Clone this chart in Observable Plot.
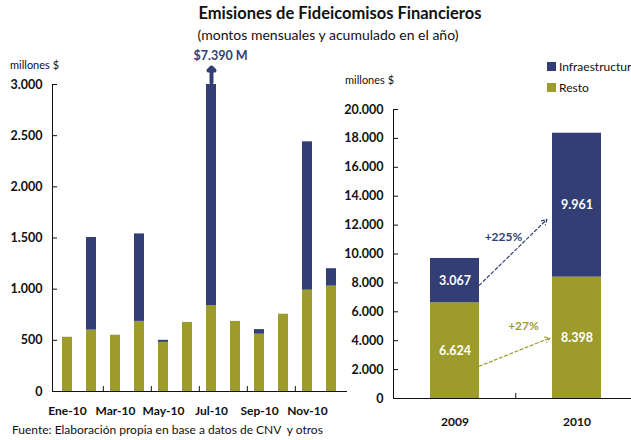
<!DOCTYPE html>
<html><head><meta charset="utf-8">
<script src="https://cdn.jsdelivr.net/npm/d3@7"></script>
<script src="https://cdn.jsdelivr.net/npm/@observablehq/plot@0.6"></script>
<style>
html,body{margin:0;padding:0;background:#fff;overflow:hidden}
#root{position:relative;width:631px;height:440px;overflow:hidden;font-family:Lato,"Open Sans",sans-serif;color:#111}
.abs{position:absolute;white-space:nowrap;line-height:1}
#left,#right{position:absolute}
#left{left:0;top:40px;width:346px}
#right{left:330px;top:95px;width:310px}
#left svg,#right svg{max-width:none!important}
.sw{position:absolute;width:9px;height:9px}
</style></head><body><div id="root">
<div class="abs" style="left:0;width:680px;top:5px;text-align:center;font-weight:bold;font-size:16.5px">Emisiones de Fideicomisos Financieros</div>
<div class="abs" style="left:0;width:656px;top:28px;text-align:center;font-size:14px">(montos mensuales y acumulado en el año)</div>
<div class="abs" style="left:10px;top:59px;font-size:11px">millones $</div>
<div class="abs" style="left:345px;top:74px;font-size:11px">millones $</div>
<div id="legend"></div>
<div id="left"></div>
<div id="right"></div>
<div class="abs" style="left:12px;top:424px;font-size:12px">Fuente: Elaboración propia en base a datos de CNV&nbsp; y otros</div>
</div>
<script>
// ---- data ----
const months = ["Ene-10","Feb-10","Mar-10","Abr-10","May-10","Jun-10","Jul-10","Ago-10","Sep-10","Oct-10","Nov-10","Dic-10"];
const monthTicks = ["Ene-10","Mar-10","May-10","Jul-10","Sep-10","Nov-10"];
const restoMonthly = [530, 600, 550, 685, 480, 675, 840, 685, 560, 755, 990, 1030];
const infraMonthly = [0, 905, 0, 855, 20, 0, 6550, 0, 45, 0, 1450, 170];
const leftTicks = [0, 500, 1000, 1500, 2000, 2500, 3000];
const julNote = "$7.390 M";
const julMonth = "Jul-10";

const years = ["2009", "2010"];
const restoYearly = [6624, 8398];
const infraYearly = [3067, 9961];
const rightTicks = [0, 2000, 4000, 6000, 8000, 10000, 12000, 14000, 16000, 18000, 20000];
const growthLabels = ["+225%", "+27%"];
const growthFrom = [6200, 1560];   // arrow line at 2009 band centre
const growthTo = [14420, 4940];    // arrow line at 2010 band centre
const growthLabelY = [11200, 5000];

const series = ["Infraestructura", "Resto"];
const colors = ["#333f74", "#9c9b2c"];

// ---- helpers ----
const fmt = d3.formatLocale({decimal: ",", thousands: ".", grouping: [3], currency: ["$", ""]}).format(",");
const font = "Lato, 'Open Sans', sans-serif";

// legend
const legend = document.getElementById("legend");
series.forEach((s, i) => {
  const top = 62 + i * 21;
  legend.insertAdjacentHTML("beforeend",
    `<div class="sw" style="left:547px;top:${top}px;background:${colors[i]}"></div>` +
    `<div class="abs" style="left:559px;top:${top - 1}px;font-size:12px">${s}</div>`);
});

// ---- left chart ----
const monthly = [];
months.forEach((m, i) => {
  monthly.push({m, s: "Resto", v: restoMonthly[i]});
  monthly.push({m, s: "Infraestructura", v: infraMonthly[i]});
});
const leftMax = leftTicks[leftTicks.length - 1];
const left = Plot.plot({
  width: 346, height: 385, marginLeft: 52, marginRight: 0, marginTop: 44, marginBottom: 34,
  style: {fontFamily: font, background: "transparent", overflow: "visible", color: "#111"},
  x: {domain: months, paddingInner: 0.59, paddingOuter: 0.33, label: null, axis: null},
  y: {domain: [0, leftMax], label: null, axis: null},
  color: {domain: series, range: colors},
  marks: [
    Plot.barY(monthly, {x: "m", y: "v", fill: "s", clip: true}),
    Plot.axisY({ticks: leftTicks, tickSize: -5, tickPadding: 15, tickFormat: fmt, fontWeight: "bold", fontSize: 12.5, label: null}),
    Plot.axisX({ticks: monthTicks, tickSize: 0, tickPadding: 15, fontWeight: "bold", fontSize: 12, label: null}),
    Plot.axisX({ticks: months.filter((d, i) => i % 2 === 0 && i > 0), tickSize: -5, tickFormat: () => "", dx: -12.2, label: null}),
    Plot.frame({anchor: "left"}),
    Plot.frame({anchor: "bottom"}),
    Plot.vector([{m: julMonth, y: leftMax}], {x: "m", y: "y", length: 15, rotate: 0, anchor: "start", shape: "arrow", stroke: colors[0], strokeWidth: 4, dy: -2}),
    Plot.text([{m: julMonth, y: leftMax, t: julNote}], {x: "m", y: "y", text: "t", dy: -29, dx: 9, fill: colors[0], fontWeight: "bold", fontSize: 12.5})
  ]
});
document.getElementById("left").append(left);

// ---- right chart ----
const yearly = [];
years.forEach((y, i) => {
  yearly.push({y, s: "Resto", v: restoYearly[i]});
  yearly.push({y, s: "Infraestructura", v: infraYearly[i]});
});
const growth = growthLabels.map((label, i) => ({label, from: growthFrom[i], to: growthTo[i], ly: growthLabelY[i], color: colors[i]}));
const insets = [[34, 42], [26, 29]];
const labelDx = [48.5, 68.5];
const right = Plot.plot({
  width: 310, height: 345, marginLeft: 63, marginRight: 2, marginTop: 14, marginBottom: 42,
  style: {fontFamily: font, background: "transparent", overflow: "visible", color: "#111"},
  x: {domain: years, paddingInner: 0.6, paddingOuter: 0.3, label: null, axis: null},
  y: {domain: [0, rightTicks[rightTicks.length - 1]], label: null, axis: null},
  color: {domain: series, range: colors},
  marks: [
    Plot.barY(yearly, {x: "y", y: "v", fill: "s"}),
    Plot.text(yearly, Plot.stackY({x: "y", y: "v", z: "s", text: d => fmt(d.v), fill: "white", fontWeight: "bold", fontSize: 12.5})),
    ...growth.map((g, i) => Plot.arrow([g], {x1: () => years[0], x2: () => years[1], y1: "from", y2: "to", stroke: g.color, strokeWidth: 1.2, strokeDasharray: "3,2.5", headLength: 7, insetStart: insets[i][0], insetEnd: insets[i][1]})),
    ...growth.map((g, i) => Plot.text([g], {x: () => years[0], y: "ly", text: "label", dx: labelDx[i], fill: g.color, fontWeight: "bold", fontSize: 12})),
    Plot.axisY({ticks: rightTicks, tickSize: -5, tickPadding: 15, tickFormat: fmt, fontWeight: "bold", fontSize: 12.5, label: null}),
    Plot.axisX({ticks: years, tickSize: 0, tickPadding: 19, fontWeight: "bold", fontSize: 12, label: null}),
    Plot.axisX({ticks: [years[1]], tickSize: -5, tickFormat: () => "", dx: -61.25, label: null}),
    Plot.frame({anchor: "left"}),
    Plot.frame({anchor: "bottom"})
  ]
});
document.getElementById("right").append(right);
</script>
</body></html>
